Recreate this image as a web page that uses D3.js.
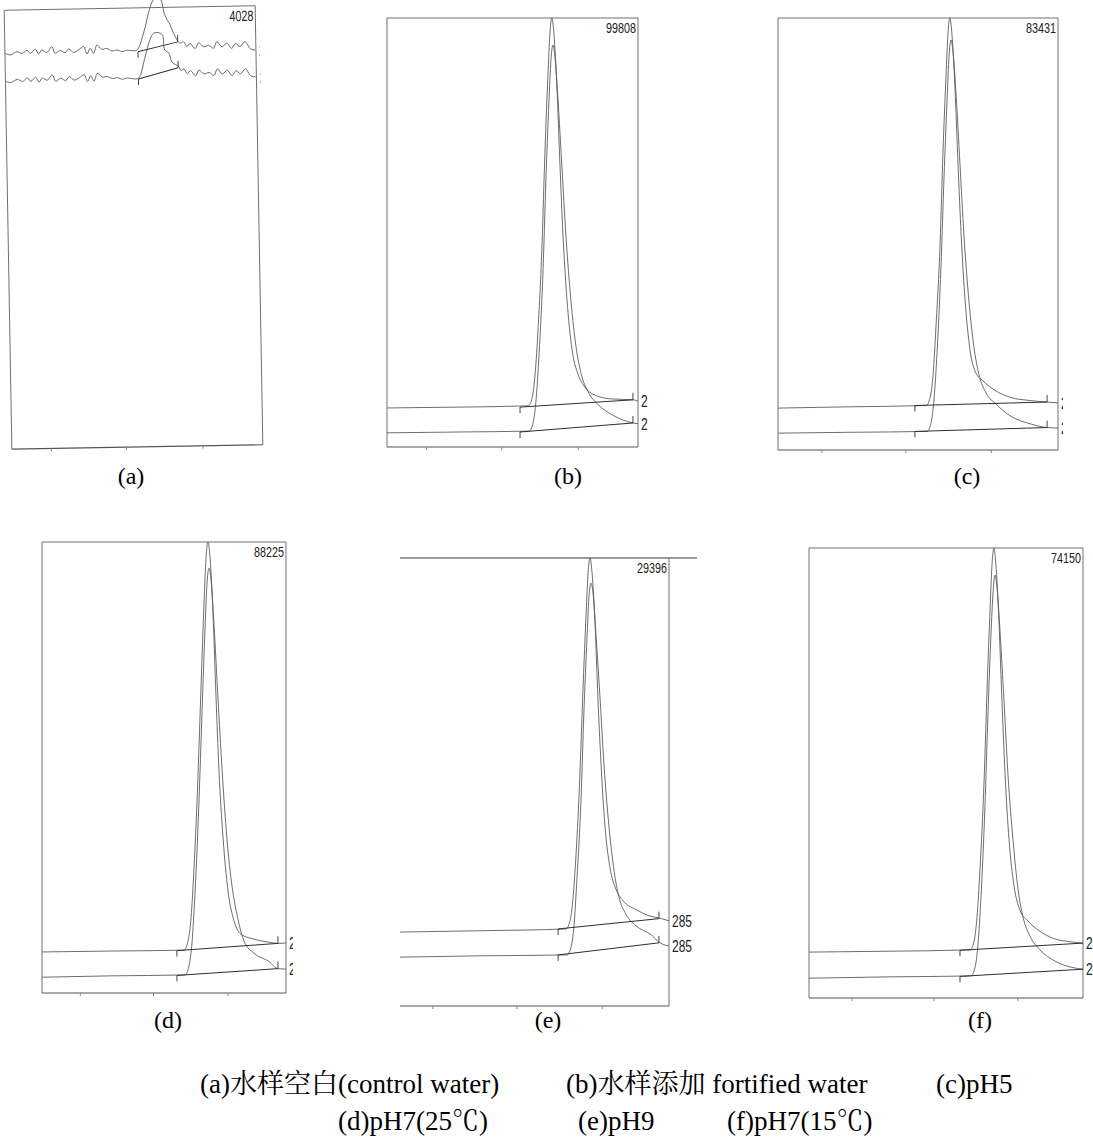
<!DOCTYPE html>
<html><head><meta charset="utf-8">
<script src="https://cdn.jsdelivr.net/npm/d3@7"></script>
<style>body{margin:0;background:#fff}</style>
</head><body><svg id="chart" width="1093" height="1142"></svg>
<script>
// ---------------- DATA (time 0-10 across each frame, response % of frame height) ----------------
const panelIds = ["a", "b", "c", "d", "e", "f"];
const panelLabels = ["(a)", "(b)", "(c)", "(d)", "(e)", "(f)"];
const fullScale = ["4028", "99808", "83431", "88225", "29396", "74150"];
const rightLabels = ["2", "2", "2", "2", "285", "2"];
const timeTicks = [1.55, 4.55, 7.6];
const captionRow1 = ["(a)水样空白(control water)", "(b)水样添加 fortified water", "(c)pH5"];
const captionRow2 = ["(d)pH7(25℃)", "(e)pH9", "(f)pH7(15℃)"];

const traceA1 = [[0,90.2],[0.21,89.8],[0.48,90.5],[0.68,90.1],[0.88,90.8],[1.01,90.1],[1.21,91.0],[1.34,89.9],[1.47,90.8],[1.67,90.2],[1.87,91.5],[2.00,90.0],[2.20,90.6],[2.40,90.1],[2.54,90.9],[2.74,90.1],[2.94,90.7],[3.14,91.4],[3.27,89.7],[3.40,91.0],[3.53,89.8],[3.67,91.7],[3.86,90.7],[4.06,90.9],[4.26,90.3],[4.46,90.5],[4.66,90.1],[4.86,90.4],[5.06,90.3],[5.26,90.4],[5.54,94.3],[5.78,99.5],[5.94,101.7],[6.10,102.4],[6.25,101.7],[6.37,98.7],[6.53,96.7],[6.57,96.4],[6.73,94.1],[6.93,92.0],[6.99,91.8],[7.12,92.1],[7.25,91.0],[7.38,91.7],[7.58,90.5],[7.72,91.8],[7.92,90.9],[8.12,91.2],[8.31,90.5],[8.45,92.0],[8.65,90.8],[8.84,91.6],[9.04,90.4],[9.18,91.5],[9.37,90.8],[9.57,91.9],[9.77,90.3],[9.97,89.9]];
const traceA2 = [[0,83.8],[0.21,83.5],[0.48,84.2],[0.68,83.7],[0.88,84.5],[1.01,83.7],[1.21,84.6],[1.34,83.5],[1.47,84.4],[1.67,83.9],[1.87,85.1],[2.00,83.6],[2.20,84.3],[2.40,83.7],[2.54,84.6],[2.74,83.8],[2.94,84.3],[3.14,85.0],[3.27,83.4],[3.40,84.7],[3.53,83.5],[3.67,85.3],[3.86,84.4],[4.06,84.5],[4.26,84.0],[4.46,84.2],[4.66,83.8],[4.86,84.1],[5.06,83.9],[5.30,84.0],[5.58,88.8],[5.78,92.6],[5.94,94.2],[6.18,94.2],[6.29,93.7],[6.37,90.3],[6.53,89.6],[6.65,87.5],[6.93,86.4],[6.99,85.6],[7.12,85.9],[7.25,84.8],[7.38,85.5],[7.58,84.3],[7.72,85.6],[7.92,84.7],[8.12,85.0],[8.31,84.3],[8.45,85.8],[8.65,84.6],[8.84,85.4],[9.04,84.2],[9.18,85.3],[9.37,84.6],[9.57,85.7],[9.77,84.1],[9.97,83.8]];
const traceB1 = [[0,9.1],[2.91,9.3],[5.62,9.6],[5.78,11.4],[5.90,16.9],[6.02,27.7],[6.18,47.6],[6.29,68.4],[6.41,86.4],[6.49,96.4],[6.57,100],[6.65,96.4],[6.77,83.9],[6.89,65.9],[7.01,49.6],[7.17,34.4],[7.37,22.8],[7.61,17.0],[7.89,13.9],[8.37,11.9],[8.96,11.2],[9.80,11.0],[10,10.7]];
const traceB2 = [[0,3.3],[2.91,3.5],[5.66,3.7],[5.82,5.6],[5.94,11.1],[6.06,21.8],[6.22,41.6],[6.33,62.2],[6.45,80.2],[6.53,90.0],[6.61,93.7],[6.69,91.0],[6.81,81.2],[6.97,65.2],[7.13,49.2],[7.33,34.0],[7.53,23.4],[7.73,17.2],[8.01,12.9],[8.41,9.9],[9.00,7.4],[9.80,5.6],[10,5.4]];
const traceC1 = [[0,9.7],[2.57,10.0],[5.29,10.3],[5.43,12.1],[5.54,17.5],[5.64,28.3],[5.79,48.0],[5.89,68.6],[6.00,86.5],[6.07,96.4],[6.14,100],[6.21,96.4],[6.32,83.9],[6.43,66.0],[6.54,49.9],[6.68,34.8],[6.86,23.1],[7.07,17.8],[7.32,16.0],[7.75,13.8],[8.29,12.2],[8.93,11.5],[9.61,11.1],[10,10.9]];
const traceC2 = [[0,3.9],[2.57,4.1],[5.32,4.3],[5.46,6.1],[5.57,11.6],[5.68,22.5],[5.82,42.4],[5.93,63.2],[6.04,81.3],[6.11,91.3],[6.18,94.9],[6.25,92.2],[6.36,82.2],[6.50,66.1],[6.64,49.8],[6.82,34.4],[7.00,23.7],[7.18,17.4],[7.43,13.2],[7.79,10.6],[8.32,7.8],[9.04,6.0],[9.61,5.2],[10,5.1]];
const traceD1 = [[0,9.1],[2.79,9.3],[5.82,9.5],[5.98,11.4],[6.11,16.8],[6.23,27.7],[6.39,47.6],[6.52,68.4],[6.64,86.4],[6.72,96.4],[6.80,100],[6.89,96.4],[7.01,83.9],[7.13,65.9],[7.25,49.7],[7.42,34.4],[7.62,22.8],[7.87,16.0],[8.16,13.0],[8.65,12.0],[9.26,11.3],[9.67,11.0],[10,11.1]];
const traceD2 = [[0,3.5],[2.79,3.8],[5.86,4.0],[6.02,5.9],[6.15,11.3],[6.27,22.1],[6.43,41.9],[6.56,62.6],[6.68,80.6],[6.76,90.5],[6.84,94.2],[6.93,91.5],[7.05,81.6],[7.21,65.6],[7.38,49.5],[7.58,34.2],[7.79,23.6],[7.99,17.4],[8.28,11.5],[8.69,8.8],[9.30,7.0],[9.67,5.4],[10,5.3]];
const traceE1 = [[0.39,16.5],[3.25,16.8],[6.32,17.2],[6.46,18.9],[6.57,24.0],[6.68,33.8],[6.82,52.0],[6.93,71.0],[7.04,87.6],[7.11,96.7],[7.18,100],[7.25,96.8],[7.36,85.3],[7.46,69.0],[7.57,54.3],[7.71,40.4],[7.89,31.0],[8.11,26.0],[8.36,23.5],[8.86,21.4],[9.25,20.2],[9.68,19.6],[10,19.0]];
const traceE2 = [[0.39,10.9],[3.25,11.2],[6.36,11.4],[6.50,13.1],[6.61,18.2],[6.71,28.2],[6.86,46.4],[6.96,65.4],[7.07,82.0],[7.14,91.1],[7.21,94.4],[7.29,92.0],[7.39,83.0],[7.54,68.4],[7.68,53.7],[7.86,39.8],[8.04,30.1],[8.21,24.4],[8.46,20.5],[8.82,17.9],[9.36,15.9],[9.68,14.1],[10,13.4]];
const traceF1 = [[0,10.2],[2.96,10.4],[5.88,10.7],[6.02,12.5],[6.13,17.9],[6.24,28.6],[6.39,48.3],[6.50,68.8],[6.61,86.7],[6.68,96.4],[6.75,100],[6.82,96.4],[6.93,84.1],[7.04,66.3],[7.15,50.4],[7.30,35.2],[7.48,25.0],[7.70,19.5],[7.96,17.3],[8.39,15.0],[8.94,13.2],[9.53,12.5],[10,12.2]];
const traceF2 = [[0,4.4],[2.96,4.7],[5.91,4.9],[6.06,6.8],[6.17,12.1],[6.28,22.8],[6.42,42.4],[6.53,62.8],[6.64,80.6],[6.72,90.4],[6.79,94.0],[6.86,91.3],[6.97,81.7],[7.12,65.7],[7.26,49.8],[7.45,34.8],[7.63,24.1],[7.81,18.0],[8.07,13.7],[8.43,10.7],[8.98,8.2],[9.53,6.9],[10,6.4]];

// integration baselines: [start, end] per trace
const integA = [[[5.30,90.0],[6.89,92.1]], [[5.30,83.8],[6.89,86.2]]];
const integB = [[[5.30,9.3],[9.80,11.0]], [[5.30,3.5],[9.80,5.6]]];
const integC = [[[4.89,10.3],[9.61,11.1]], [[4.89,4.3],[9.61,5.2]]];
const integD = [[[5.53,9.4],[9.67,11.0]], [[5.53,3.9],[9.67,5.4]]];
const integE = [[[6.04,17.2],[9.64,19.5]], [[6.04,11.4],[9.64,14.1]]];
const integF = [[[5.51,10.6],[10,12.2]], [[5.51,4.8],[10,6.4]]];

// ---------------- LAYOUT ----------------
const layout = {
  a: {L: 8, R: 259, T: 8, B: 447, rot: -1, curve: "smooth", labelClip: 2, endTick: true},
  b: {L: 387, R: 638, T: 18, B: 447, curve: "mono", labelClip: 10, endTick: true},
  c: {L: 778, R: 1058, T: 18, B: 450, curve: "mono", labelClip: 3, endTick: true},
  d: {L: 42, R: 286, T: 542, B: 993, curve: "mono", labelClip: 5, endTick: true},
  e: {L: 389, R: 669, T: 558, B: 1006, curve: "mono", labelClip: 21, clipX: 400, noLeft: true, topExtend: 697, endTick: true},
  f: {L: 809, R: 1083, T: 548, B: 998, curve: "mono", labelClip: 10, endTick: false}
};
const traceTable = {a: [traceA1, traceA2], b: [traceB1, traceB2], c: [traceC1, traceC2],
  d: [traceD1, traceD2], e: [traceE1, traceE2], f: [traceF1, traceF2]};
const integTable = {a: integA, b: integB, c: integC, d: integD, e: integE, f: integF};
const letterPos = {a: [131, 484], b: [568, 484], c: [967, 484], d: [168, 1028], e: [548, 1028], f: [980, 1028]};

const svg = d3.select("#chart");
svg.append("rect").attr("width", 1093).attr("height", 1142).attr("fill", "#fff");
const defs = svg.append("defs");

const boxColor = "#707070", traceColor = "#5c5c5c", integColor = "#2e2e2e";

panelIds.forEach((id, i) => {
  const P = layout[id];
  const x = d3.scaleLinear().domain([0, 10]).range([P.L, P.R]);
  const y = d3.scaleLinear().domain([0, 100]).range([P.B, P.T]);
  const g = svg.append("g");
  if (P.rot) g.attr("transform", `rotate(${P.rot},${(P.L + P.R) / 2},${(P.T + P.B) / 2})`);

  const left = P.clipX || P.L;
  // frame
  g.append("line").attr("x1", left).attr("x2", P.topExtend || P.R).attr("y1", P.T).attr("y2", P.T)
    .attr("stroke", P.topExtend ? "#333" : boxColor).attr("stroke-width", 1);
  g.append("line").attr("x1", P.R).attr("x2", P.R).attr("y1", P.T).attr("y2", P.B)
    .attr("stroke", boxColor).attr("stroke-width", 1);
  g.append("line").attr("x1", left).attr("x2", P.R).attr("y1", P.B).attr("y2", P.B)
    .attr("stroke", "#555").attr("stroke-width", 1.1);
  if (!P.noLeft) g.append("line").attr("x1", P.L).attr("x2", P.L).attr("y1", P.T).attr("y2", P.B)
    .attr("stroke", boxColor).attr("stroke-width", 1);

  // bottom time ticks
  const ax = g.append("g").attr("transform", `translate(0,${P.B})`)
    .call(d3.axisBottom(x).tickValues(timeTicks).tickSize(3).tickFormat(""));
  ax.select(".domain").remove();
  ax.selectAll("line").attr("stroke", "#888");

  // clip for traces
  const clipId = "clip-" + id;
  defs.append("clipPath").attr("id", clipId).append("rect")
    .attr("x", left).attr("y", -20).attr("width", P.R + 10 - left).attr("height", P.B + 20);
  const tg = g.append("g").attr("clip-path", `url(#${clipId})`);

  const line = d3.line().x(d => x(d[0])).y(d => y(d[1]))
    .curve(P.curve === "mono" ? d3.curveMonotoneX : d3.curveCatmullRom.alpha(0.5));
  traceTable[id].forEach(tr => {
    tg.append("path").attr("d", line(tr)).attr("fill", "none")
      .attr("stroke", traceColor).attr("stroke-width", 0.9);
  });
  // integration baselines with start / end markers
  integTable[id].forEach(seg => {
    tg.append("path").attr("d", d3.line().x(d => x(d[0])).y(d => y(d[1]))(seg))
      .attr("fill", "none").attr("stroke", integColor).attr("stroke-width", 1);
    const s = seg[0], e = seg[1];
    tg.append("line").attr("x1", x(s[0])).attr("x2", x(s[0])).attr("y1", y(s[1])).attr("y2", y(s[1]) + 6)
      .attr("stroke", integColor).attr("stroke-width", 0.9);
    if (P.endTick) tg.append("line").attr("x1", x(e[0])).attr("x2", x(e[0])).attr("y1", y(e[1]) - 7).attr("y2", y(e[1]))
      .attr("stroke", integColor).attr("stroke-width", 0.9);
  });

  // full-scale value
  g.append("text").attr("transform", `translate(${P.R - 2},${P.T + 15}) scale(0.72,1)`)
    .attr("text-anchor", "end").attr("font-family", "Liberation Sans, Arial, sans-serif")
    .attr("font-size", 15).attr("fill", "#222").text(fullScale[i]);

  // truncated channel labels at right end of baselines
  const lcId = "lclip-" + id;
  defs.append("clipPath").attr("id", lcId).append("rect")
    .attr("x", P.R + 2).attr("y", P.T).attr("width", P.labelClip).attr("height", P.B - P.T);
  const lg = g.append("g").attr("clip-path", `url(#${lcId})`);
  traceTable[id].forEach(tr => {
    const last = tr[tr.length - 1];
    lg.append("text").attr("transform", `translate(${P.R + 3},${y(last[1]) + 6}) scale(0.75,1)`)
      .attr("font-family", "Liberation Sans, Arial, sans-serif").attr("font-size", 16)
      .attr("fill", "#222").text(rightLabels[i]);
  });

  // panel letter
  svg.append("text").attr("x", letterPos[id][0]).attr("y", letterPos[id][1])
    .attr("text-anchor", "middle").attr("font-family", "Liberation Serif, Times New Roman, serif")
    .attr("font-size", 24).attr("fill", "#000").text(panelLabels[i]);
});

// caption
const capFont = "Liberation Serif, 'Noto Serif CJK SC', 'Noto Sans CJK SC', serif";
const cap1X = [200, 566, 936], cap2X = [338, 578, 727];
captionRow1.forEach((t, i) => svg.append("text").attr("x", cap1X[i]).attr("y", 1093)
  .attr("font-family", capFont).attr("font-size", 27).attr("fill", "#000").text(t));
captionRow2.forEach((t, i) => svg.append("text").attr("x", cap2X[i]).attr("y", 1130)
  .attr("font-family", capFont).attr("font-size", 27).attr("fill", "#000").text(t));
</script>
</body></html>
